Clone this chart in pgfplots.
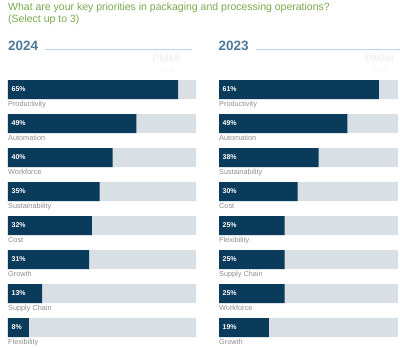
\documentclass[border=0pt]{standalone}
\usepackage{pgfplots}
\pgfplotsset{compat=1.18}
\usepackage{fontspec}
\setmainfont{Liberation Sans}
\definecolor{navy}{HTML}{0B3B5B}
\definecolor{bgbar}{HTML}{D8E0E6}
\definecolor{titlegreen}{HTML}{79A94D}
\definecolor{yearblue}{HTML}{4E7A99}
\definecolor{rulecol}{HTML}{BFD2DF}
\definecolor{catgray}{HTML}{8E8E8E}
\definecolor{wm}{HTML}{F2F2F2}
\pgfplotsset{
  panel/.style={
    scale only axis, height=257pt, xmin=0,
    ymin=-0.2794, ymax=7.2794, y dir=reverse,
    axis lines=none, clip=false, xtick=\empty, ytick=\empty,
    /pgf/number format/assume math mode=true,
  },
  bgplot/.style={xbar, bar width=19pt, bar shift=0pt, fill=bgbar, draw=none},
  valplot/.style={xbar, bar width=19pt, bar shift=0pt, fill=navy, draw=none},
  pctlabels/.style={draw=none, mark=none, point meta=explicit,
    nodes near coords={\pgfmathprintnumber{\pgfplotspointmeta}\%},
    every node near coord/.append style={anchor=west, xshift=3.5pt, text=white,
      font=\fontsize{7}{8}\selectfont\bfseries, inner sep=0pt}},
  catlabels/.style={draw=none, mark=none, point meta=explicit symbolic,
    nodes near coords,
    every node near coord/.append style={anchor=north west, yshift=-11.3pt, text=catgray,
      font=\fontsize{7.3}{8}\selectfont, inner sep=0pt}},
}
\begin{document}
\begin{tikzpicture}
\path[use as bounding box] (0pt,-348pt) rectangle (400pt,0pt);
\node[anchor=base west, text=titlegreen, font=\fontsize{10.5}{12}\selectfont, inner sep=0pt] at (8pt,-10.5pt) {What are your key priorities in packaging and processing operations?};
\node[anchor=base west, text=titlegreen, font=\fontsize{10.5}{12}\selectfont, inner sep=0pt] at (8pt,-23pt) {(Select up to 3)};
\node[anchor=base west, text=yearblue, font=\fontsize{13.5}{15}\selectfont\bfseries, inner sep=0pt] at (8pt,-51pt) {2024};
\node[anchor=base west, text=yearblue, font=\fontsize{13.5}{15}\selectfont\bfseries, inner sep=0pt] at (218.5pt,-51pt) {2023};
\draw[rulecol, line width=0.8pt] (45pt,-49.5pt) -- (192pt,-49.5pt);
\draw[rulecol, line width=0.8pt] (256pt,-49.5pt) -- (400pt,-49.5pt);
\node[text=wm, font=\fontsize{11}{12}\selectfont\bfseries, inner sep=0pt] at (166.5pt,-59pt) {PMMI};
\node[text=wm, font=\fontsize{5}{6}\selectfont, inner sep=0pt] at (166.5pt,-70pt) {©2024};
\node[text=wm, font=\fontsize{11}{12}\selectfont\bfseries, inner sep=0pt] at (379.5pt,-59pt) {PMMI};
\node[text=wm, font=\fontsize{5}{6}\selectfont, inner sep=0pt] at (379.5pt,-70pt) {©2024};

\begin{axis}[panel, at={(8pt,-80pt)}, anchor=north west, width=188pt, xmax=71.8]
\addplot[bgplot] coordinates {(71.8,0) (71.8,1) (71.8,2) (71.8,3) (71.8,4) (71.8,5) (71.8,6) (71.8,7)};
\addplot[valplot] coordinates {(65,0) (49,1) (40,2) (35,3) (32,4) (31,5) (13,6) (8,7)};
\addplot[pctlabels] coordinates {(0,0) [65] (0,1) [49] (0,2) [40] (0,3) [35] (0,4) [32] (0,5) [31] (0,6) [13] (0,7) [8]};
\addplot[catlabels] coordinates {(0,0) [Productivity] (0,1) [Automation] (0,2) [Workforce] (0,3) [Sustainability] (0,4) [Cost] (0,5) [Growth] (0,6) [Supply Chain] (0,7) [Flexibility]};
\end{axis}

\begin{axis}[panel, at={(219pt,-80pt)}, anchor=north west, width=179pt, xmax=68.3]
\addplot[bgplot] coordinates {(68.3,0) (68.3,1) (68.3,2) (68.3,3) (68.3,4) (68.3,5) (68.3,6) (68.3,7)};
\addplot[valplot] coordinates {(61,0) (49,1) (38,2) (30,3) (25,4) (25,5) (25,6) (19,7)};
\addplot[pctlabels] coordinates {(0,0) [61] (0,1) [49] (0,2) [38] (0,3) [30] (0,4) [25] (0,5) [25] (0,6) [25] (0,7) [19]};
\addplot[catlabels] coordinates {(0,0) [Productivity] (0,1) [Automation] (0,2) [Sustainability] (0,3) [Cost] (0,4) [Flexibility] (0,5) [Supply Chain] (0,6) [Workforce] (0,7) [Growth]};
\end{axis}
\end{tikzpicture}
\end{document}
